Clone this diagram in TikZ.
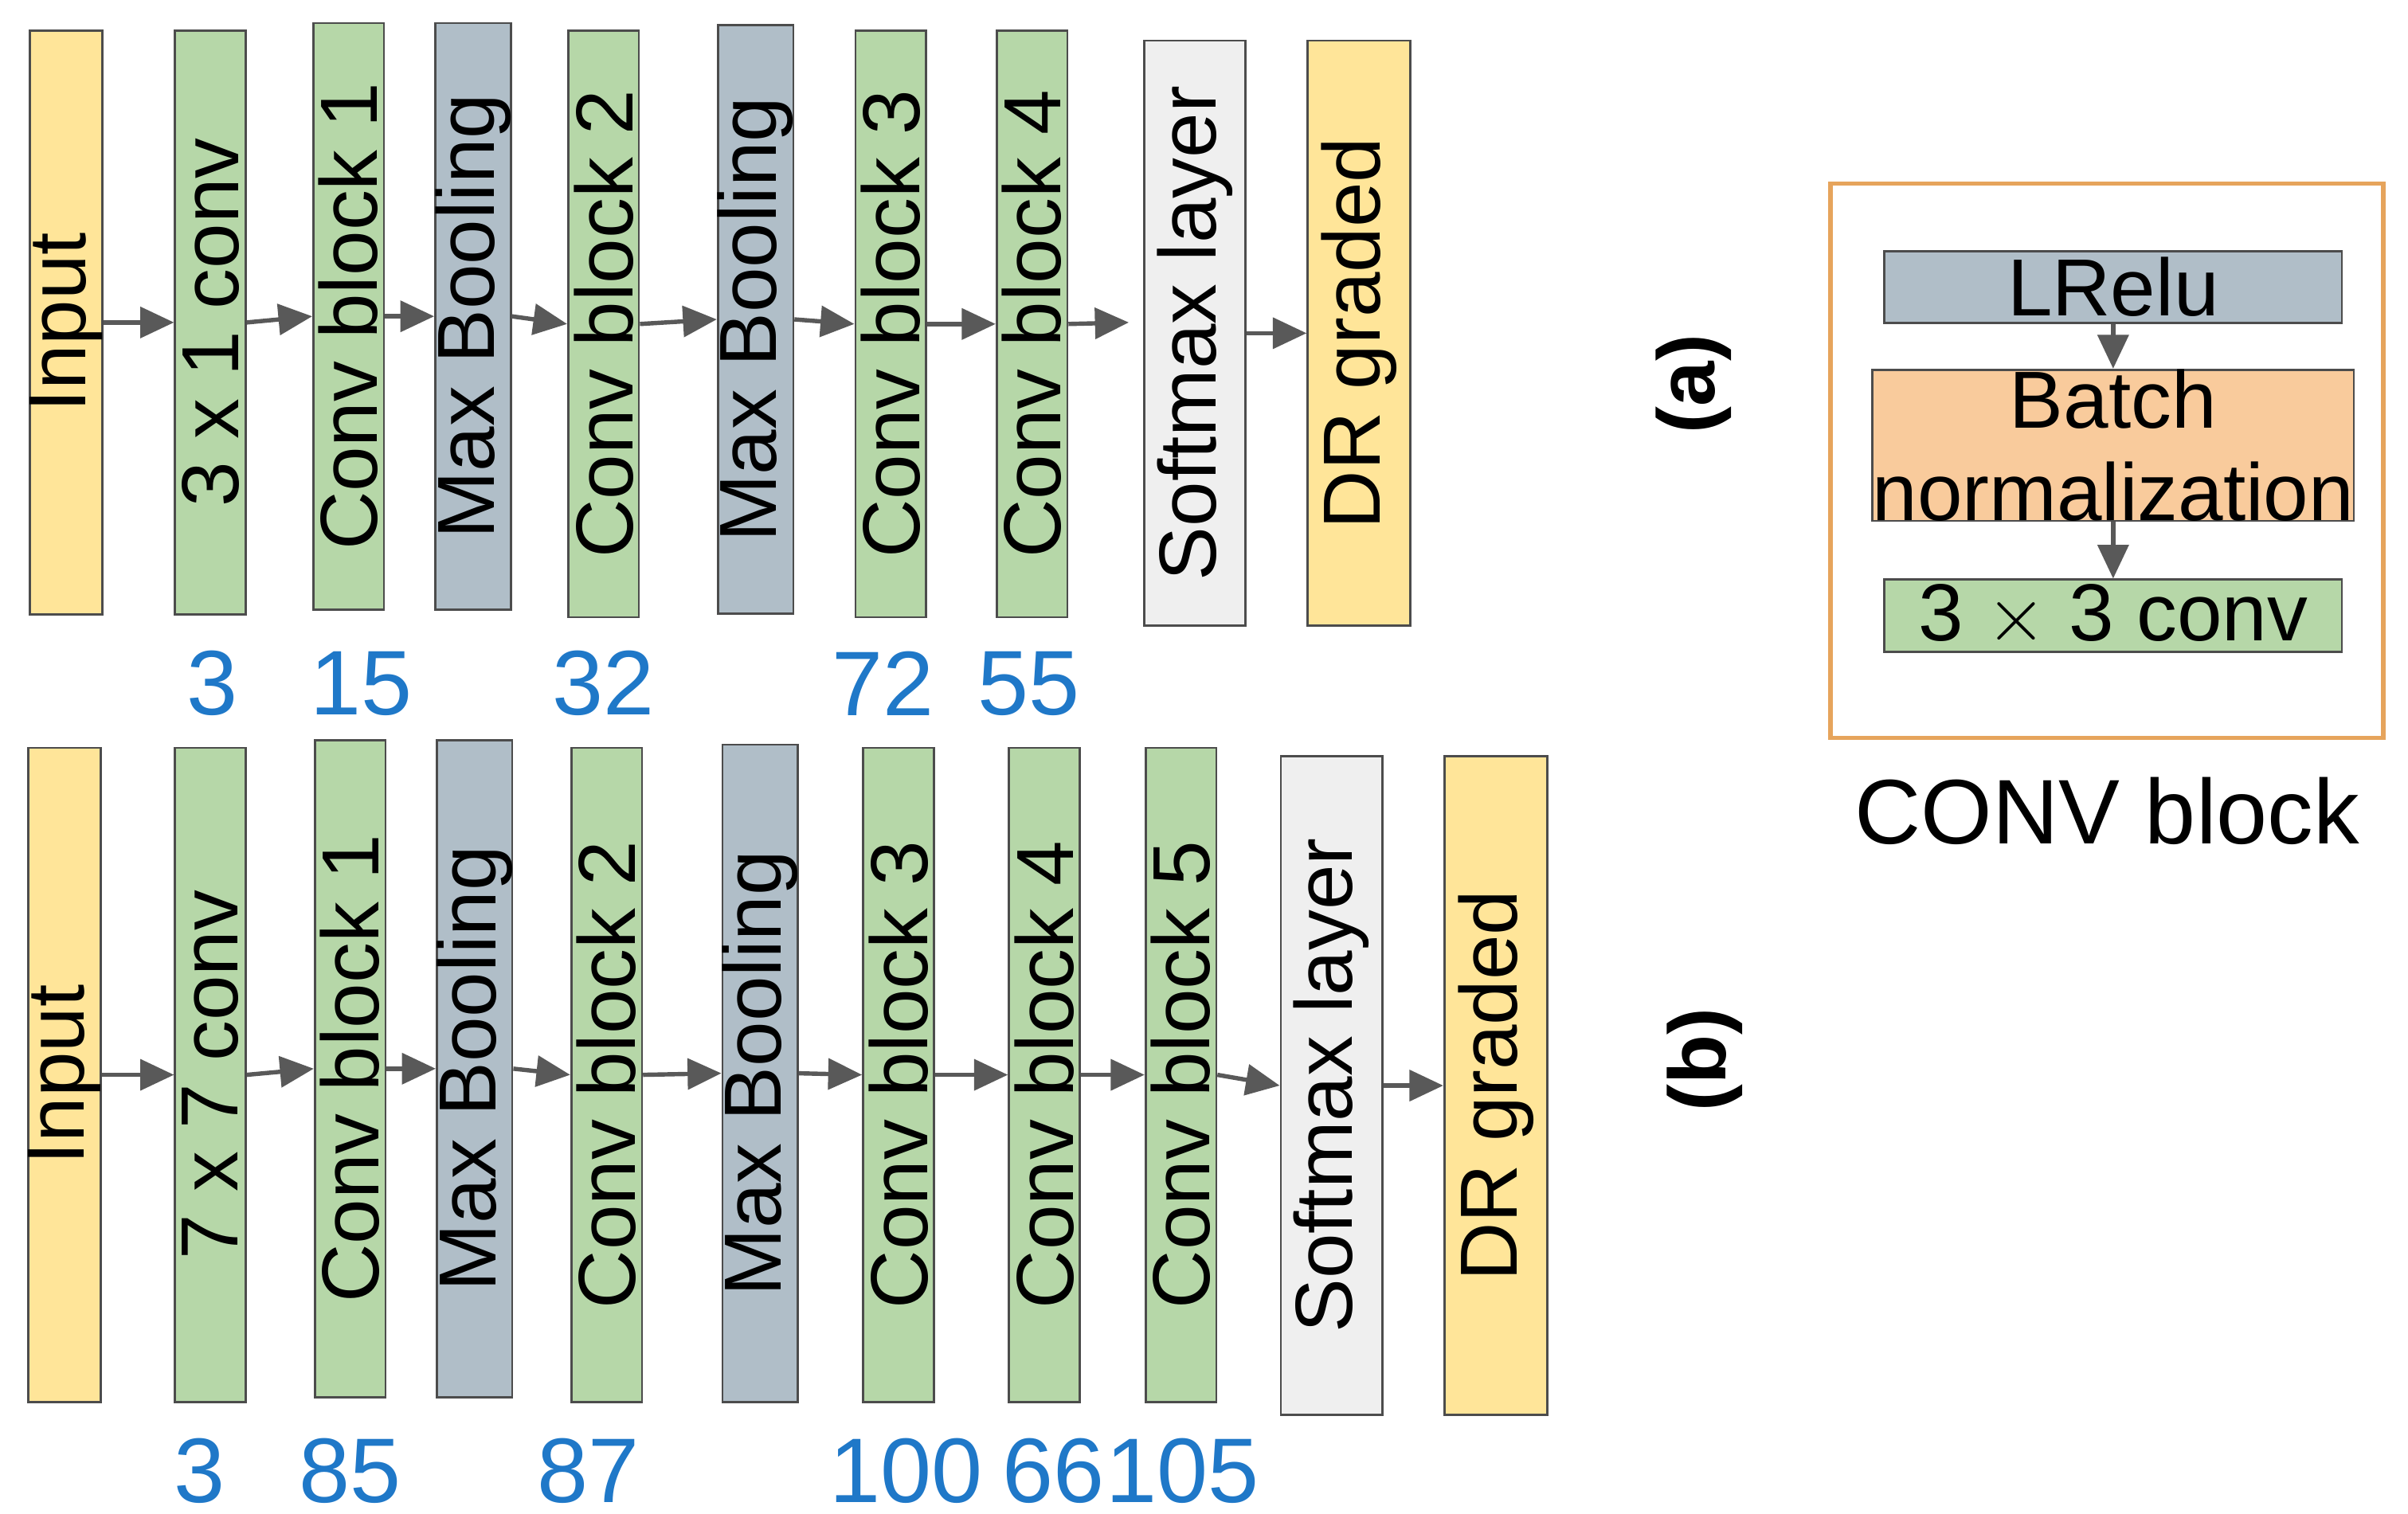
\documentclass[tikz,border=0pt]{standalone}
\usepackage{fontspec}
\setmainfont{Liberation Sans}
\usetikzlibrary{positioning,arrows.meta}
\definecolor{inyel}{HTML}{FFE599}
\definecolor{convgr}{HTML}{B6D7A8}
\definecolor{poolgr}{HTML}{B0BEC8}
\definecolor{softw}{HTML}{EFEFEF}
\definecolor{bnorm}{HTML}{F9CB9C}
\definecolor{frameor}{HTML}{E6A45C}
\definecolor{numblue}{HTML}{1F78C8}
\tikzstyle{layer} = [draw=black!70,rotate=90,minimum height=4.6mm,inner sep=0pt,font=\fontsize{15}{18}\selectfont]
\tikzstyle{inp} = [layer,fill=inyel]
\tikzstyle{conv} = [layer,fill=convgr]
\tikzstyle{pool} = [layer,fill=poolgr]
\tikzstyle{soft} = [layer,fill=softw,minimum height=6.6mm]
\tikzstyle{outp} = [layer,fill=inyel,minimum height=6.7mm]
\tikzstyle{arrow} = [-{Triangle[length=2.2mm,width=2mm]},draw=black!65,thick]
\tikzstyle{num} = [text=numblue,font=\fontsize{17}{20}\selectfont]
\tikzstyle{cb} = [draw=black!70,minimum width=29.8mm,inner sep=0pt,font=\fontsize{15}{17}\selectfont,align=center]
\begin{document}
\begin{tikzpicture}[x=0.1mm,y=-0.1mm]
\useasboundingbox (0,0) rectangle (1568,986);
% row (a)
\node (a1) [inp,minimum width=38mm] at (43,210) {Input};
\node (a2) [conv,minimum width=38mm] at (137,210) {3 x 1 conv};
\node (a3) [conv,minimum width=38.2mm] at (227,206) {Conv block 1};
\node (a4) [pool,minimum width=38.2mm] at (308,206) {Max Booling};
\node (a5) [conv,minimum width=38.2mm] at (393,211) {Conv block 2};
\node (a6) [pool,minimum width=38.3mm] at (492,208) {Max Booling};
\node (a7) [conv,minimum width=38.2mm] at (580,211) {Conv block 3};
\node (a8) [conv,minimum width=38.2mm] at (672,211) {Conv block 4};
\node (a9) [soft,minimum width=38.1mm] at (778,217) {Softmax layer};
\node (a10) [outp,minimum width=38.1mm] at (885,217) {DR graded};
\foreach \p/\n in {a1/a2,a2/a3,a3/a4,a4/a5,a5/a6,a6/a7,a7/a8}
  \draw [arrow] (\p.south) -- (\n.north);
\coordinate (sa) at (735,210);
\draw [arrow] (a8.south) -- (sa);
\draw [arrow] (a9.south) -- (a10.north);
\node [num] at (138,445) {3};
\node [num] at (235,445) {15};
\node [num] at (393,445) {32};
\node [num] at (575,445) {72};
\node [num] at (670,445) {55};
% row (b)
\node (b1) [inp,minimum width=42.6mm] at (42,700) {Input};
\node (b2) [conv,minimum width=42.6mm] at (137,700) {7 x 7 conv};
\node (b3) [conv,minimum width=42.8mm] at (228,696) {Conv block 1};
\node (b4) [pool,minimum width=42.8mm] at (309,696) {Max Booling};
\node (b5) [conv,minimum width=42.6mm] at (395,700) {Conv block 2};
\node (b6) [pool,minimum width=42.8mm] at (495,699) {Max Booling};
\node (b7) [conv,minimum width=42.6mm] at (585,700) {Conv block 3};
\node (b8) [conv,minimum width=42.6mm] at (680,700) {Conv block 4};
\node (b9) [conv,minimum width=42.6mm] at (769,700) {Conv block 5};
\node (b10) [soft,minimum width=42.9mm] at (867,707) {Softmax layer};
\node (b11) [outp,minimum width=42.9mm] at (974,707) {DR graded};
\foreach \p/\n in {b1/b2,b2/b3,b3/b4,b4/b5,b5/b6,b6/b7,b7/b8,b8/b9,b9/b10,b10/b11}
  \draw [arrow] (\p.south) -- (\n.north);
\node [num] at (130,958) {3};
\node [num] at (228,958) {85};
\node [num] at (383,958) {87};
\node [num] at (590,958) {100};
\node [num] at (686,958) {66};
\node [num] at (770,958) {105};
% labels
\node (la) [rotate=90,font=\fontsize{15}{18}\selectfont\bfseries] at (1103,250) {(a)};
\node (lb) [rotate=90,font=\fontsize{15}{18}\selectfont\bfseries] at (1110,690) {(b)};
% CONV block
\node (frame) [draw=frameor,thick,minimum width=36mm,minimum height=36.1mm] at (1372,300) {};
\node (lrelu) [cb,fill=poolgr,minimum height=4.7mm] at (1376,187) {LRelu};
\node (bn) [cb,fill=bnorm,minimum height=8.4mm] at (1376,290) {Batch\\normalization};
\node (c33) [cb,fill=convgr,minimum height=4.7mm] at (1376,401) {3 $\times$ 3 conv};
\draw [arrow] (lrelu) -- (bn);
\draw [arrow] (bn) -- (c33);
\node (cbl) [font=\fontsize{17}{20}\selectfont] at (1372,528) {CONV block};
\end{tikzpicture}
\end{document}
